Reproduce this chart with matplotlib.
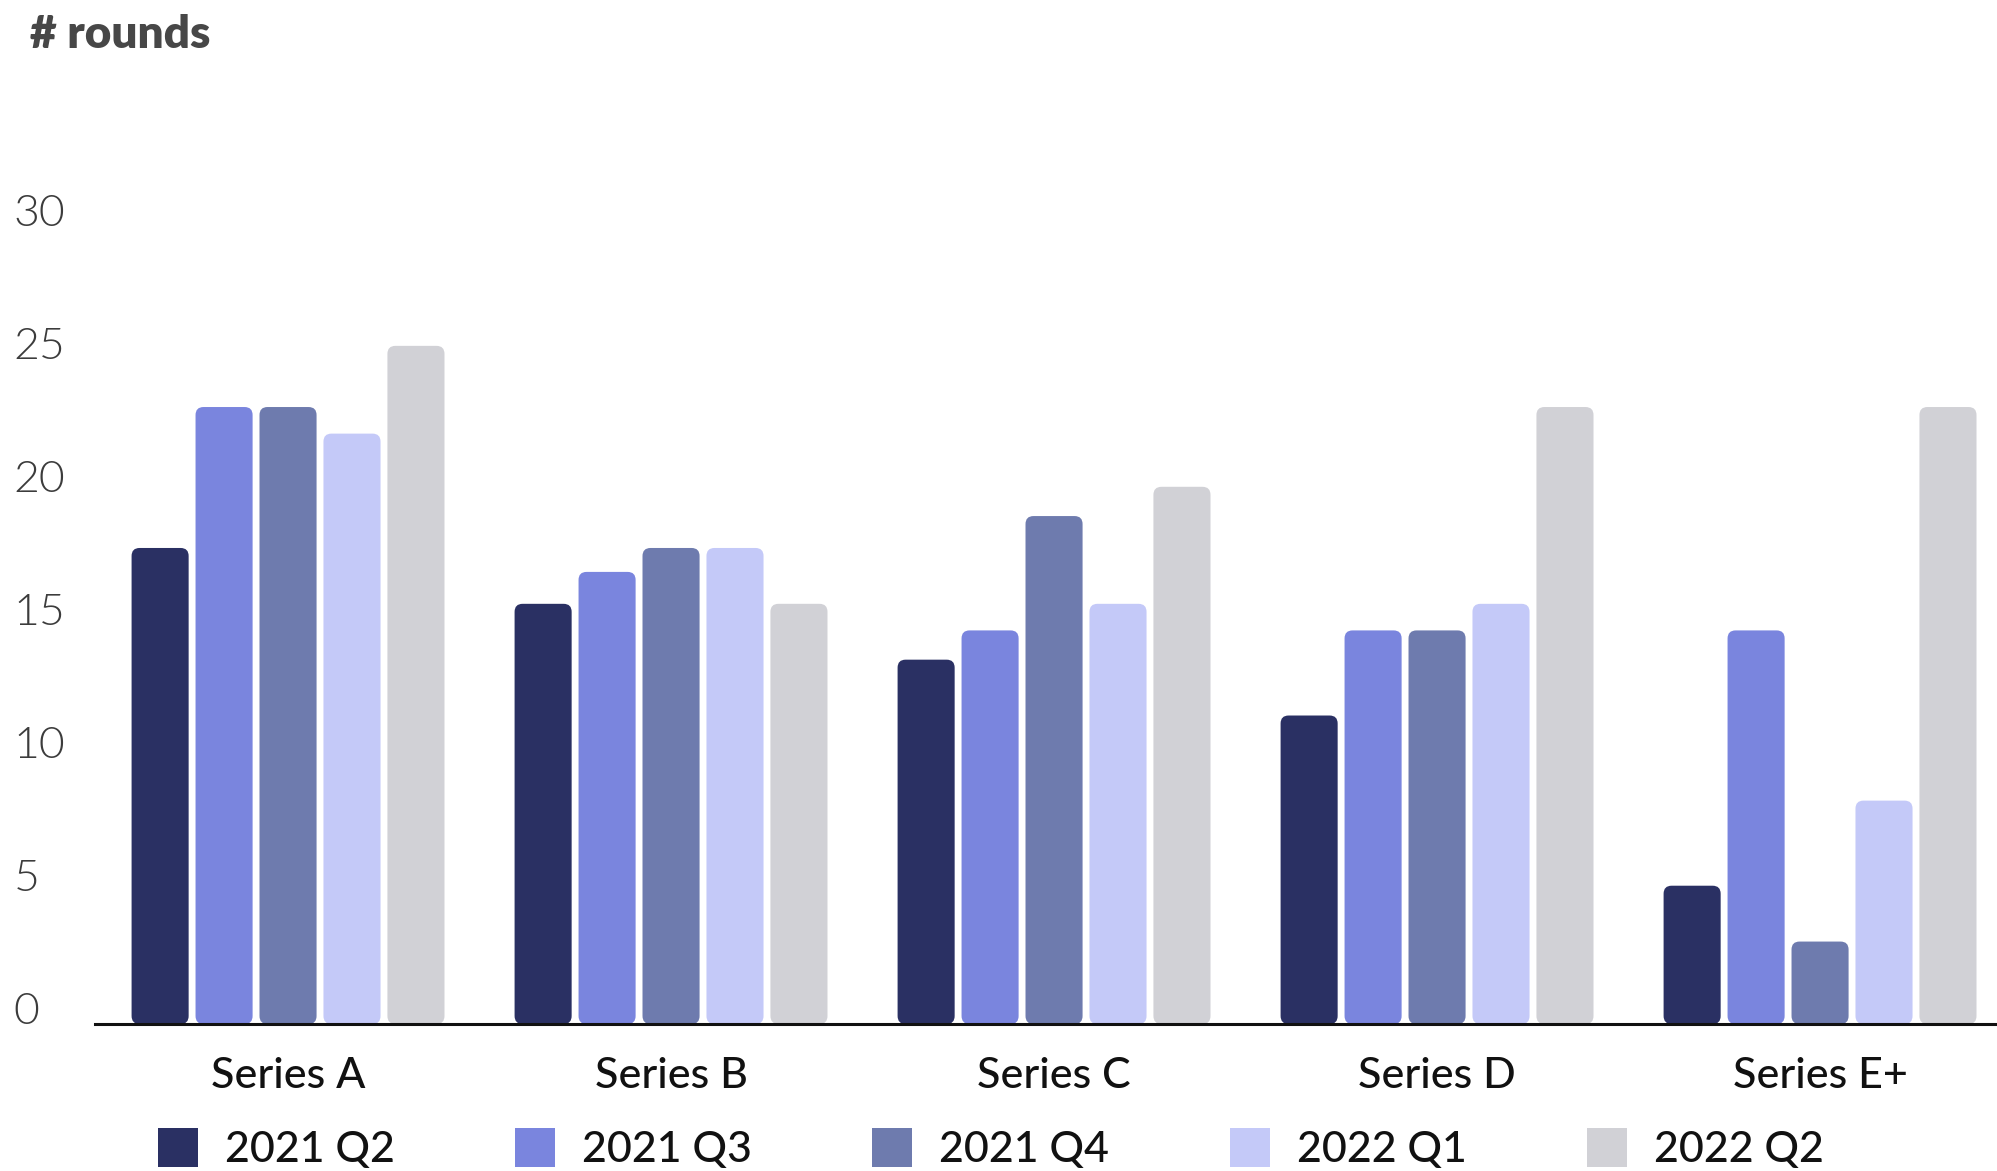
import matplotlib
matplotlib.use("Agg")
import matplotlib.pyplot as plt
from matplotlib.patches import FancyBboxPatch, Patch
import numpy as np

categories = ["Series A", "Series B", "Series C", "Series D", "Series E+"]
quarters = ["2021 Q2", "2021 Q3", "2021 Q4", "2022 Q1", "2022 Q2"]

# rounds per stage, one list per quarter
q2_2021 = [17.9, 15.8, 13.7, 11.6, 5.2]
q3_2021 = [23.2, 17.0, 14.8, 14.8, 14.8]
q4_2021 = [23.2, 17.9, 19.1, 14.8, 3.1]
q1_2022 = [22.2, 17.9, 15.8, 15.8, 8.4]
q2_2022 = [25.5, 15.8, 20.2, 23.2, 23.2]

colors = ["#2a3063", "#7a85de", "#6e7bae", "#c4c9f8", "#d1d1d6"]
yticks = [0, 5, 10, 15, 20, 25, 30]

plt.rcParams["font.family"] = ["Lato", "DejaVu Sans"]

W, H = 1997, 1171
fig = plt.figure(figsize=(W / 100, H / 100), dpi=100)
ax = fig.add_axes([95 / W, (H - 1024) / H, 1 - 95 / W, 851 / H])
ax.set_xlim(-0.504, 4.462)
ax.set_ylim(0, 32)

# rounded bars: radius in pixels, converted to data units on each axis
px_x = ax.bbox.width / np.diff(ax.get_xlim())[0]
px_y = ax.bbox.height / np.diff(ax.get_ylim())[0]
radius = 8 / px_x
aspect = px_x / px_y

series = [q2_2021, q3_2021, q4_2021, q1_2022, q2_2022]
x = np.arange(len(categories))
step = 0.167
width = 0.149
for i, (vals, col) in enumerate(zip(series, colors)):
    for xi, v in zip(x + (i - 2) * step, vals):
        bar = FancyBboxPatch((xi - width / 2, 0), width, v,
                             boxstyle=f"round,pad=0,rounding_size={radius}",
                             mutation_aspect=aspect,
                             facecolor=col, edgecolor="none", zorder=1)
        ax.add_patch(bar)

for side in ["left", "right", "top"]:
    ax.spines[side].set_visible(False)
ax.spines["bottom"].set_linewidth(2.2)
ax.spines["bottom"].set_color("#111111")
ax.spines["bottom"].set_zorder(3)

ax.set_yticks(yticks)
ax.set_yticklabels([str(t) for t in yticks], fontsize=32, color="#3c3c3c",
                   fontweight=300)
ax.tick_params(axis="y", length=0, pad=58.5)
for lbl in ax.get_yticklabels():
    lbl.set_horizontalalignment("left")
    lbl.set_verticalalignment("baseline")

ax.set_xticks(x)
ax.set_xticklabels(categories, fontsize=31, color="#111111", fontweight="medium")
ax.tick_params(axis="x", length=0, pad=24)

fig.text(30 / W, 1 - 34 / H, "# rounds", fontsize=33, fontweight="heavy",
         color="#474747", ha="left", va="center")

handles = [Patch(facecolor=c, edgecolor="none") for c in colors]
ax.legend(handles, quarters, loc="upper left",
          bbox_to_anchor=(158 / W, 1 - 1128 / H), bbox_transform=fig.transFigure,
          ncol=5, frameon=False, prop={"size": 31, "weight": "medium"},
          handlelength=0.93, handleheight=1.02, handletextpad=0.63,
          columnspacing=2.79, borderpad=0, borderaxespad=0,
          labelcolor="#111111")

fig.savefig("out.png", dpi=100)
